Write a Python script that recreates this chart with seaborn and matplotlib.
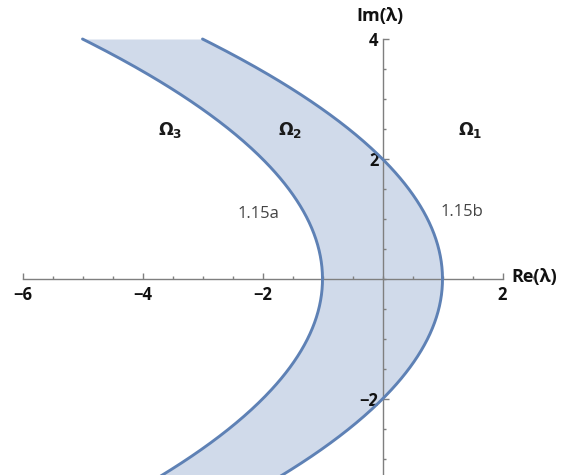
import numpy as np
import pandas as pd
import matplotlib
matplotlib.use("Agg")
import matplotlib.pyplot as plt
from matplotlib.ticker import MultipleLocator
import seaborn as sns

sns.set_style("white")
plt.rcParams["font.family"] = ["Open Sans", "DejaVu Sans"]

# Boundary curves Re(λ) = vertex - k * Im(λ)^2
curve_names = ["1.15a", "1.15b"]
curve_vertex_re = [-1.0, 1.0]
curve_k = 0.25
im_lo, im_hi = -3.4, 4.0

x_major = [-6, -4, -2, 2]
y_major = [-2, 2, 4]
tick_step = 0.5

region_labels = [r"$\mathbf{\Omega}_{\mathbf{3}}$",
                 r"$\mathbf{\Omega}_{\mathbf{2}}$",
                 r"$\mathbf{\Omega}_{\mathbf{1}}$"]

line_color = "#5E81B5"
fill_color = "#D0DAEA"
axis_color = "#7F7F7F"

im = np.linspace(im_lo, im_hi, 400)
frames = []
for name, v in zip(curve_names, curve_vertex_re):
    frames.append(pd.DataFrame({"Re": v - curve_k * im ** 2, "Im": im, "curve": name}))
df = pd.concat(frames, ignore_index=True)

fig = plt.figure(figsize=(5.61, 4.75), dpi=100)
ax = fig.add_axes([0, 0, 1, 1])
ax.set_axisbelow(False)

left = df[df.curve == curve_names[0]]
right = df[df.curve == curve_names[1]]
ax.fill_betweenx(left["Im"].values, left["Re"].values, right["Re"].values,
                 color=fill_color, lw=0, zorder=1)
sns.lineplot(data=df, x="Re", y="Im", units="curve", estimator=None, sort=False,
             color=line_color, lw=2.1, ax=ax, zorder=3, legend=False)

ax.set_xlim(-6.375, 2.975)
ax.set_ylim(-3.267, 4.65)
ax.set_xlabel("")
ax.set_ylabel("")

for s in ["top", "right"]:
    ax.spines[s].set_visible(False)
ax.spines["bottom"].set_position(("data", 0))
ax.spines["left"].set_position(("data", 0))
ax.spines["bottom"].set_bounds(-6, 2)
ax.spines["left"].set_bounds(-3.3, 4)
for s in ["bottom", "left"]:
    ax.spines[s].set_color(axis_color)
    ax.spines[s].set_linewidth(1.0)
    ax.spines[s].set_zorder(2)

ax.set_xticks(x_major)
ax.set_xticklabels([f"{v}".replace("-", "\u2212") for v in x_major])
ax.set_yticks(y_major)
ax.set_yticklabels([f"{v}".replace("-", "\u2212") for v in y_major])
ax.xaxis.set_minor_locator(MultipleLocator(tick_step))
ax.yaxis.set_minor_locator(MultipleLocator(tick_step))
ax.tick_params(which="both", direction="in", color=axis_color, width=1.0)
ax.tick_params(which="major", length=4.0, labelsize=12, labelcolor="#111111")
ax.tick_params(which="minor", length=2.2)
ax.tick_params(axis="x", which="major", pad=5, bottom=True)
ax.tick_params(axis="y", which="major", pad=3, left=True)
ax.tick_params(axis="x", which="minor", bottom=True)
ax.tick_params(axis="y", which="minor", left=True)
for lab in ax.get_xticklabels() + ax.get_yticklabels():
    lab.set_fontweight("bold")

ax.text(2.15, 0.04, "Re(λ)", ha="left", va="center", fontsize=13,
        fontweight="bold", color="#111111")
ax.text(-0.04, 4.38, "Im(λ)", ha="center", va="center", fontsize=13,
        fontweight="bold", color="#111111")

for lab, x in zip(region_labels, [-3.54, -1.54, 1.46]):
    ax.text(x, 2.48, lab, ha="center", va="center", fontsize=12.5, color="#1a1a1a")

ax.text(-2.07, 1.08, curve_names[0], ha="center", va="center", fontsize=12, color="#444444")
ax.text(1.33, 1.12, curve_names[1], ha="center", va="center", fontsize=12, color="#444444")

fig.savefig("out.png", dpi=100)
